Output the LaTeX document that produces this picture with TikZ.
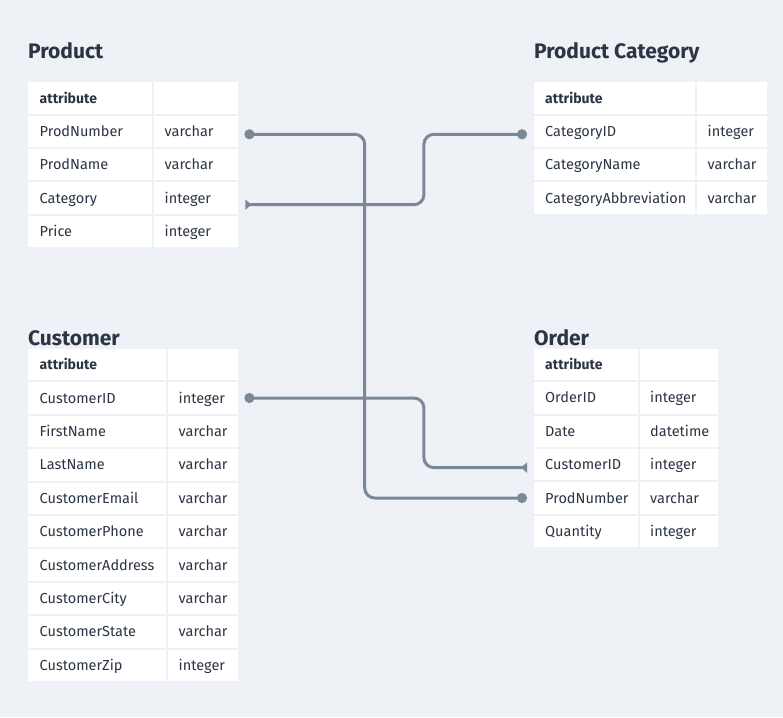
\documentclass[tikz,border=0pt]{standalone}
\usepackage{fontspec}
\setmainfont{Fira Sans}
\usetikzlibrary{arrows.meta}
\definecolor{bg}{HTML}{EEF2F6}
\definecolor{ink}{HTML}{2B3543}
\definecolor{wirec}{HTML}{7B8898}
\tikzset{
  cell/.style={fill=white, draw=none, anchor=north west, minimum height=31.4pt,
    inner xsep=11.5pt, inner ysep=0pt, align=left, text=ink,
    text height=10.3pt, text depth=0pt,
    font=\fontsize{14.5}{17}\selectfont},
  hdr/.style={cell, font=\fontsize{14}{17}\selectfont\bfseries},
  ttl/.style={anchor=base west, inner sep=0pt, text=ink,
    font=\fontsize{21}{25}\selectfont\bfseries},
  wire/.style={draw=wirec, line width=3pt, rounded corners=10pt},
}
% #1 prefix, #2 x, #3 y, #4 w1, #5 w2, #6 tw1, #7 tw2, #8 rows
\newcommand{\ertable}[8]{%
  \node[hdr, text width=#6pt] (#1-h1) at (#2,#3) {attribute};
  \node[hdr, text width=#7pt, inner xsep=10.5pt] (#1-h2) at ({#2+#4+2},#3) {};
  \foreach[count=\i] \a/\t in {#8}{
    \node[cell, text width=#6pt] (#1-a\i) at (#2,{#3+\i*33.4}) {\a};
    \node[cell, text width=#7pt, inner xsep=10.5pt] (#1-t\i) at ({#2+#4+2},{#3+\i*33.4}) {\t};
  }%
}
\begin{document}
\begin{tikzpicture}[x=1pt,y=-1pt]
\fill[bg] (0,0) rectangle (783,717);
\useasboundingbox (0,0) rectangle (783,717);

\node[ttl] (prodT) at (28,58.3) {Product};
\node[ttl] (catT) at (534,58.3) {Product Category};
\node[ttl] (custT) at (28,345.5) {Customer};
\node[ttl] (ordT) at (534,345.5) {Order};

\ertable{prod}{28}{82}{124}{84}{101}{63}{ProdNumber/varchar,ProdName/varchar,Category/integer,Price/integer}
\ertable{cat}{533.5}{82}{161.5}{70}{138.5}{49}{CategoryID/integer,CategoryName/varchar,CategoryAbbreviation/varchar}
\ertable{cust}{28}{348.7}{138}{70}{115}{49}{CustomerID/integer,FirstName/varchar,LastName/varchar,CustomerEmail/varchar,CustomerPhone/varchar,CustomerAddress/varchar,CustomerCity/varchar,CustomerState/varchar,CustomerZip/integer}
\ertable{ord}{533.5}{348.5}{104}{78.5}{81}{57.5}{OrderID/integer,Date/datetime,CustomerID/integer,ProdNumber/varchar,Quantity/integer}

% Product.ProdNumber -> Order.ProdNumber
\draw[wire, {Circle[length=10pt]}-{Circle[length=10pt]}]
  ([xshift=6pt,yshift=-3pt]prod-t1.east) -- ++(120.3,0)
  |- ([xshift=-6.5pt]ord-a4.west);
% Product.Category -> ProductCategory.CategoryID
\draw[wire, {Triangle[reversed,length=6pt,width=10pt]}-{Circle[length=10pt]}]
  ([xshift=7pt,yshift=-6.6pt]prod-t3.east) -- ++(178.5,0)
  |- ([xshift=-6.5pt,yshift=-3pt]cat-a1.west);
% Customer.CustomerID -> Order.CustomerID
\draw[wire, {Circle[length=10pt]}-{Triangle[reversed,length=6pt,width=10pt]}]
  ([xshift=6pt]cust-t1.east) -- ++(179.5,0)
  |- ([xshift=-6.5pt,yshift=-3pt]ord-a3.west);
\end{tikzpicture}
\end{document}
